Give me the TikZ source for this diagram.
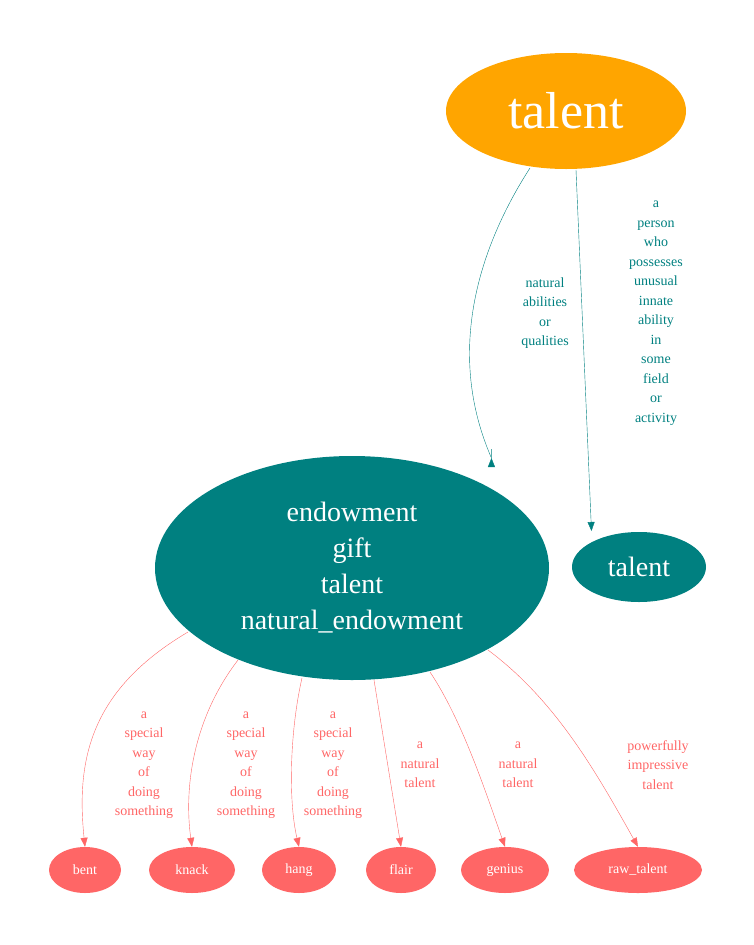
\documentclass[tikz,border=0pt]{standalone}
\usepackage{fontspec}
\setmainfont{Liberation Serif}
\usetikzlibrary{shapes.geometric,arrows.meta}
\definecolor{teal2}{HTML}{008080}
\definecolor{coral}{HTML}{FF6666}
\definecolor{orng}{HTML}{FFA500}
\begin{document}
\begin{tikzpicture}[x=1pt,y=-1pt,
  ell/.style={ellipse,inner sep=0pt,text=white,align=center},
  leaf/.style={ell,fill=coral,minimum height=46pt,font=\fontsize{14}{16}\selectfont},
  lab/.style={align=center,font=\fontsize{14}{19.5}\selectfont},
  tl/.style={lab,text=teal2},
  cl/.style={lab,text=coral},
  te/.style={draw=teal2,-{Triangle[length=9pt,width=7pt]}},
  ce/.style={draw=coral,-{Triangle[length=9pt,width=7pt]}}]
\useasboundingbox (0,0) rectangle (754,945);
\node[ell,fill=orng,minimum width=240pt,minimum height=116pt,font=\fontsize{52}{56}\selectfont] (t) at (566,111) {talent};
\node[ell,fill=teal2,minimum width=394pt,minimum height=224pt,font=\fontsize{28}{36}\selectfont] (e) at (352,568) {endowment\\gift\\talent\\natural\_endowment};
\node[ell,fill=teal2,minimum width=134pt,minimum height=70pt,font=\fontsize{28}{32}\selectfont] (t2) at (639,567) {talent};
\node[leaf,minimum width=72pt] (b) at (85,870) {bent};
\node[leaf,minimum width=86pt] (k) at (192,870) {knack};
\node[leaf,minimum width=74pt] (h) at (299,870) {hang};
\node[leaf,minimum width=70pt] (f) at (401,870) {flair};
\node[leaf,minimum width=88pt] (g) at (505,870) {genius};
\node[leaf,minimum width=128pt] (r) at (638,870) {raw\_talent};
\coordinate (t1s) at (530,168); \coordinate (t2s) at (576,170);
\draw[te] (t1s) .. controls (490,230) and (440,340) .. (e.north east|-0,458) -- ++(0,0);
\draw[te] (t2s) -- (t2.north west|-0,531);
\node[tl] at (545,313) {natural\\abilities\\or\\qualities};
\node[tl] at (656,313) {a\\person\\who\\possesses\\unusual\\innate\\ability\\in\\some\\field\\or\\activity};
\coordinate (eb) at (188,632); \coordinate (ek) at (238,660); \coordinate (eh) at (302,678);
\coordinate (ef) at (374,680); \coordinate (eg) at (430,672); \coordinate (er) at (488,650);
\draw[ce] (eb) .. controls (90,690) and (76,760) .. (b.north);
\draw[ce] (ek) .. controls (192,720) and (184,790) .. (k.north);
\draw[ce] (eh) .. controls (290,730) and (288,800) .. (h.north);
\draw[ce] (ef) -- (f.north);
\draw[ce] (eg) .. controls (462,720) and (485,790) .. (g.north);
\draw[ce] (er) .. controls (555,700) and (595,770) .. (r.north);
\node[cl] at (144,765) {a\\special\\way\\of\\doing\\something};
\node[cl] at (246,765) {a\\special\\way\\of\\doing\\something};
\node[cl] at (333,765) {a\\special\\way\\of\\doing\\something};
\node[cl] at (420,765) {a\\natural\\talent};
\node[cl] at (518,765) {a\\natural\\talent};
\node[cl] at (658,765) {powerfully\\impressive\\talent};
\end{tikzpicture}
\end{document}
